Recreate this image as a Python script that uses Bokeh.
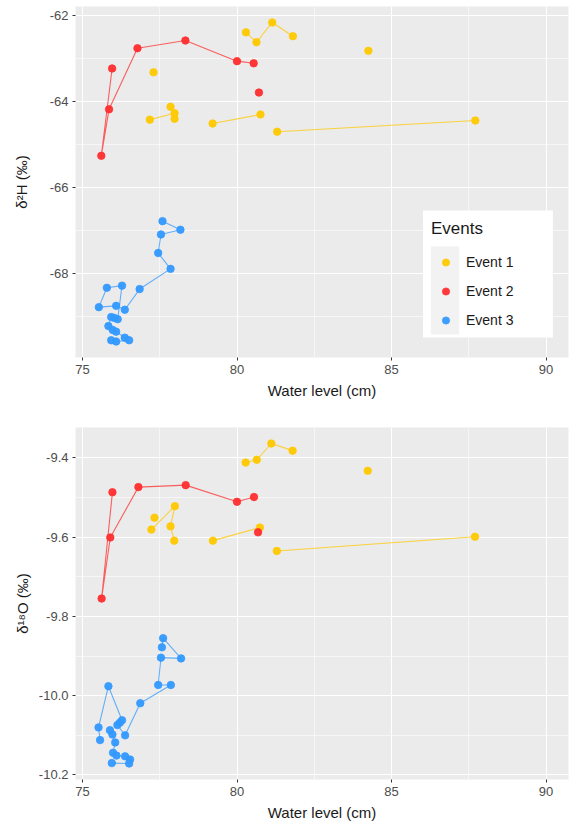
from bokeh.plotting import figure
from bokeh.layouts import column
from bokeh.models import (ColumnDataSource, FixedTicker, PrintfTickFormatter, Range1d,
                          Legend, LegendItem, BoxAnnotation)
from bokeh.embed import file_html
from bokeh.resources import INLINE

# ---------------------------------------------------------------- data
EVENTS = ["Event 1", "Event 2", "Event 3"]
COLORS = ["#FFC800", "#FF2E2E", "#3399FF"]

# Water level (cm) and deuterium (per mil); rows sharing a path id are joined in order
h_level = [80.29, 80.63, 81.14, 81.81, 77.18, 77.98, 77.85, 77.98, 77.30, 84.25,
           79.21, 80.76, 81.30, 87.71,
           75.96, 75.61, 75.86, 76.78, 78.33, 80.00, 80.54, 80.71,
           77.59, 78.17, 77.54, 77.45, 77.85, 76.85, 76.37, 76.09, 75.53, 75.79,
           76.28, 76.14, 76.03, 75.93, 75.84, 75.98, 76.09, 76.37, 76.51, 76.09, 75.93]
h_value = [-62.40, -62.63, -62.17, -62.49, -64.43, -64.28, -64.13, -64.41, -63.33, -62.83,
           -64.52, -64.31, -64.71, -64.45,
           -63.24, -65.27, -64.19, -62.77, -62.59, -63.07, -63.12, -63.80,
           -66.79, -66.99, -67.10, -67.53, -67.90, -68.37, -68.85, -68.76, -68.79, -68.34,
           -68.29, -69.07, -69.04, -69.02, -69.23, -69.32, -69.36, -69.50, -69.56, -69.59, -69.56]
h_event = [1] * 14 + [2] * 8 + [3] * 21
h_path = [1, 1, 1, 1, 2, 2, 3, 4, 5, 6,
          7, 7, 8, 8,
          9, 9, 9, 9, 9, 9, 9, 10,
          11, 11, 11, 11, 11, 11, 11, 11, 11, 11,
          11, 11, 11, 11, 11, 11, 11, 11, 11, 11, 11]

# Water level (cm) and oxygen-18 (per mil)
o_level = [80.28, 80.64, 81.11, 81.80, 77.23, 77.99, 77.85, 77.97, 77.33, 84.23,
           79.22, 80.74, 81.29, 87.70,
           75.97, 75.62, 75.90, 76.81, 78.34, 80.00, 80.55, 80.68,
           77.57, 77.61, 78.19, 77.54, 77.45, 77.86, 76.87, 76.38, 76.13, 76.21, 76.28,
           75.84, 75.52, 75.57,
           75.89, 75.97, 76.06, 75.99, 76.10, 76.38, 76.54, 76.51, 75.95]
o_value = [-9.412, -9.405, -9.364, -9.382, -9.581, -9.522, -9.573, -9.609, -9.551, -9.433,
           -9.609, -9.576, -9.635, -9.599,
           -9.487, -9.755, -9.601, -9.474, -9.469, -9.511, -9.499, -9.588,
           -9.878, -9.855, -9.906, -9.904, -9.973, -9.973, -10.019, -10.100, -10.074, -10.068, -10.062,
           -9.976, -10.080, -10.112,
           -10.087, -10.098, -10.118, -10.144, -10.151, -10.153, -10.161, -10.171, -10.170]
o_event = [1] * 14 + [2] * 8 + [3] * 23
o_path = [1, 1, 1, 1, 2, 2, 2, 2, 3, 4,
          5, 5, 6, 6,
          7, 7, 7, 7, 7, 7, 7, 8,
          9, 9, 9, 9, 9, 9, 9, 9, 9, 9, 9,
          9, 9, 9,
          10, 10, 10, 10, 10, 10, 10, 10, 10]

X_TICKS = [75, 80, 85, 90]
X_MINOR = [77.5, 82.5, 87.5]
X_LIMITS = (75.5, 90)
H_TICKS = [-68, -66, -64, -62]
H_MINOR = [-69, -67, -65, -63]
O_TICKS = [-10.2, -10.0, -9.8, -9.6, -9.4]
O_MINOR = [-10.1, -9.9, -9.7, -9.5]

FONT = "Liberation Sans"


def expand(lo, hi, frac=0.05):
    pad = (hi - lo) * frac
    return lo - pad, hi + pad


def make_panel(level, val, event, path, y_ticks, y_minor, y_fmt, y_label,
               height, borders, y_title_gap):
    left, right, top, bottom = borders
    x0, x1 = expand(*X_LIMITS)
    y0, y1 = expand(min(val), max(val))
    p = figure(width=579, height=height, output_backend="svg", toolbar_location=None,
               x_range=Range1d(x0, x1), y_range=Range1d(y0, y1),
               min_border_left=left, min_border_right=right,
               min_border_top=top, min_border_bottom=bottom)
    p.background_fill_color = "#EBEBEB"
    p.border_fill_color = "white"
    p.outline_line_color = None

    p.xaxis.ticker = FixedTicker(ticks=X_TICKS, minor_ticks=X_MINOR)
    p.yaxis.ticker = FixedTicker(ticks=y_ticks, minor_ticks=y_minor)
    p.yaxis.formatter = PrintfTickFormatter(format=y_fmt)
    p.xaxis.formatter = PrintfTickFormatter(format="%d")
    for grid in (p.xgrid, p.ygrid):
        grid.grid_line_color = "white"
        grid.grid_line_width = 1.1
        grid.minor_grid_line_color = "white"
        grid.minor_grid_line_width = 0.55
    for ax in (p.xaxis, p.yaxis):
        ax.axis_line_color = None
        ax.minor_tick_line_color = None
        ax.major_tick_in = 0
        ax.major_tick_out = 3
        ax.major_tick_line_color = "#333333"
        ax.major_label_text_color = "#4D4D4D"
        ax.major_label_text_font = FONT
        ax.major_label_text_font_size = "13px"
        ax.major_label_standoff = 3
        ax.axis_label_text_font = FONT
        ax.axis_label_text_font_size = "15px"
        ax.axis_label_text_font_style = "normal"
        ax.axis_label_text_color = "#1A1A1A"
        ax.axis_label_standoff = 5
    p.yaxis.axis_label_standoff = y_title_gap
    p.xaxis.axis_label = "Water level (cm)"
    p.yaxis.axis_label = y_label

    renderers = []
    for k, (name, color) in enumerate(zip(EVENTS, COLORS), start=1):
        idx = [i for i, e in enumerate(event) if e == k]
        # connecting paths first, so the points sit on top
        for pid in dict.fromkeys(path[i] for i in idx):
            members = [i for i in idx if path[i] == pid]
            if len(members) > 1:
                seg = ColumnDataSource(dict(x=[level[i] for i in members],
                                            y=[val[i] for i in members]))
                p.line("x", "y", source=seg, line_color=color, line_width=1.1,
                       line_alpha=0.75)
        src = ColumnDataSource(dict(x=[level[i] for i in idx], y=[val[i] for i in idx]))
        r = p.scatter("x", "y", source=src, size=7.5, fill_color=color, line_color=color,
                      line_width=0.8, fill_alpha=0.95, line_alpha=0.95)
        renderers.append(r)
    return p, renderers


top_borders = (67, 7, 6, 47)
p1, rends = make_panel(h_level, h_value, h_event, h_path, H_TICKS, H_MINOR, "%d",
                       "δ²H (‰)", 404, top_borders, 17)
p2, _ = make_panel(o_level, o_value, o_event, o_path, O_TICKS, O_MINOR, "%.1f",
                   "δ¹⁸O (‰)", 420, (75, 11, 23, 45), 5)

# legend box, positioned in pixels of the top frame
fw, fh = 579 - top_borders[0] - top_borders[1], 404 - top_borders[2] - top_borders[3]
xr, yr = p1.x_range, p1.y_range


def fx(px):
    return xr.start + (px - top_borders[0]) / fw * (xr.end - xr.start)


def fy(py):
    return yr.end - (py - top_borders[2]) / fh * (yr.end - yr.start)


p1.add_layout(BoxAnnotation(left=fx(423), right=fx(556), top=fy(210), bottom=fy(337),
                            fill_color="white", fill_alpha=1, line_color=None, level="annotation"))
p1.add_layout(BoxAnnotation(left=fx(431), right=fx(460), top=fy(246), bottom=fy(334),
                            fill_color="#F2F2F2", fill_alpha=1, line_color=None, level="annotation"))

legend = Legend(items=[LegendItem(label=n, renderers=[r]) for n, r in zip(EVENTS, rends)],
                location=(423 - top_borders[0] - 8, 357 - 342), title="Events",
                title_text_font=FONT, title_text_font_size="17px", title_text_font_style="normal",
                title_text_color="#1A1A1A", title_standoff=8,
                label_text_font=FONT, label_text_font_size="14px", label_text_color="#1A1A1A",
                glyph_width=29, glyph_height=18, label_height=29, spacing=0, padding=8,
                label_standoff=6, background_fill_alpha=0, border_line_alpha=0, margin=0)
p1.add_layout(legend)

layout = column(p1, p2, spacing=0)
open("out.html", "w").write(file_html(layout, INLINE))
